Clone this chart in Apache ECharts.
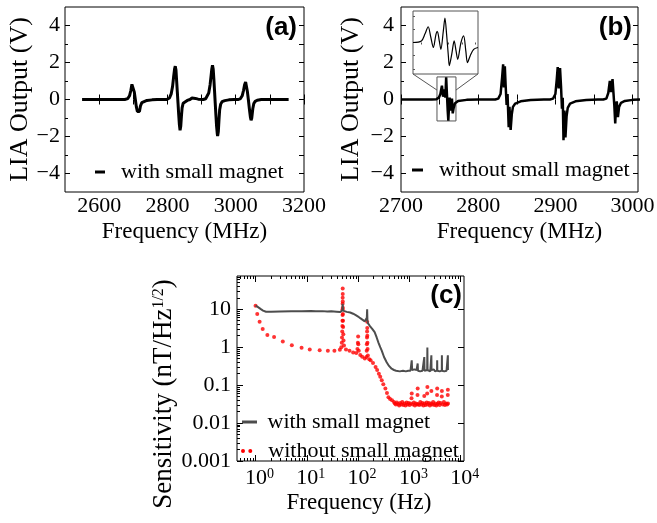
<!DOCTYPE html>
<html><head><meta charset="utf-8">
<script src="https://cdn.jsdelivr.net/npm/echarts@6/dist/echarts.min.js"></script>
<style>html,body{margin:0;padding:0;background:#fff}#c{width:657px;height:523px}</style>
</head><body><div id="c"></div>
<script>
// ---------- Panel (a): with small magnet ----------
const freqA = [2550,2675,2684,2689,2693,2696,2698,2700,2703,2706,2709,2712,2715,2718,2721,2725,2730,2740,2755,2770,
  2798,2806,2811,2815,2818,2821,2823,2825,2827,2829,2831,2833,2835,2837,2839,2841,2843,2846,2850,2858,2866,2872,2877,2882,2890,
  2905,2912,2917,2921,2925,2928,2930,2932,2934,2936,2938,2940,2942,2944,2946,2947,2949,2951,2953,2956,2960,2968,2980,2995,
  3008,3014,3019,3023,3026,3029,3031,3034,3037,3040,3043,3045,3047,3050,3053,3057,3063,3075,3155];
const liaA = [0,0,0.05,0.2,0.5,0.82,0.9,0.75,0.4,0,-0.4,-0.65,-0.74,-0.65,-0.35,-0.17,-0.1,-0.05,-0.02,0,
  0,0.08,0.3,0.7,1.2,1.65,1.8,1.6,1.0,0.4,-0.2,-0.8,-1.35,-1.66,-1.45,-0.9,-0.45,-0.2,-0.1,-0.05,0,0.08,0.12,0.06,0.02,
  0,0.04,0.12,0.35,0.8,1.3,1.65,1.85,1.65,1.1,0.45,-0.2,-0.85,-1.45,-1.85,-1.98,-1.75,-1.1,-0.55,-0.25,-0.12,-0.06,-0.02,0,
  0,0.05,0.2,0.5,0.8,0.95,0.85,0.45,0,-0.5,-0.95,-1.12,-1.0,-0.5,-0.22,-0.1,-0.04,0,0];

// ---------- Panel (b): without small magnet ----------
const freqB = [2700,2740,2746,2749,2751,2753,2754.5,2755.5,2756.5,2757.5,2758.5,2759.5,2760.5,2761.3,2762.3,2763,2764,2765,2766,2767,2768,2770,2774,2785,2800,
  2822,2826,2829,2831,2832.3,2833.3,2834.5,2835.5,2836.8,2838,2839.5,2840.5,2842,2843.5,2845,2848,2855,2868,2885,
  2893,2897,2900,2901.8,2903,2904.3,2906,2907.3,2908.5,2909.5,2910.5,2911.7,2913,2914.5,2916,2919,2926,2940,2955,
  2962,2966,2968.5,2970.5,2972,2974,2975.3,2976.3,2977.5,2978.5,2979.5,2981,2982.5,2985,2990,3000,3010];
const liaB = [0,0,0.02,0.1,0.3,0.75,0.15,0.35,0.55,0.1,1.2,0.3,-0.6,-1.14,-0.3,0.1,-0.6,-0.2,0.05,-0.75,-0.5,-0.2,-0.08,-0.02,0,
  0,0.05,0.3,1.2,1.9,0.65,1.8,0.8,-0.3,0.3,-1.5,-0.4,-1.65,-0.8,-0.4,-0.22,-0.1,-0.03,0,
  0,0.05,0.3,1.1,1.75,0.6,1.7,0.7,-0.5,0.1,-2.2,-0.6,-2.05,-0.9,-0.45,-0.22,-0.1,-0.03,0,
  0,0.05,0.35,1.0,0.4,1.1,0.3,-0.3,-1.3,-0.4,-0.1,-0.95,-0.4,-0.18,-0.08,-0.02,0];

// ---------- Inset of panel (b) ----------
const freqInset = [2747.0,2750.1,2751.4,2752.6,2753.6,2754.5,2755.5,2756.0,2756.7,2757.3,2758.2,2758.8,2759.4,2760.1,2760.4,2761.3,2762.2,2762.9,2763.5,2764.7,2765.7,2766.5,2767.1,2768.1,2769.4,2771.0];
const liaInset  = [0,0.06,0.32,0.60,0.19,-0.19,0.32,0.42,0.06,-0.26,0.44,0.93,0.32,-0.57,-0.88,-0.45,0.06,-0.32,-0.64,-0.01,0.25,-0.32,-0.77,-0.51,-0.26,-0.19];

// ---------- Panel (c): sensitivity ----------
const freqWith = [1,1.1,1.25,1.4,1.6,2,3,5,8,12,15,20,25,30,38,45,48,49.5,50,50.5,52,55,60,70,80,90,100,110,120,135,145,148,150,152,155,
  170,190,210,230,250,270,290,320,360,400,450,500,550,600,650,700,750,800,850,900,950,1000,1050,1090,1110,1130,1180,1250,1300,1380,
  1430,1450,1470,1550,1620,1700,1800,1900,1930,1950,1970,2050,2150,2220,2240,2260,2350,2450,2550,2660,2680,2700,2850,3000,3150,3300,
  3460,3480,3500,3700,3900,4100,4280,4300,4320,4550,4800,5050,5300,5600,5620,5640];
const sensWith = [12.5,11.5,10.2,9.2,8.6,8.6,8.7,8.8,8.9,9.0,8.8,8.9,8.7,8.8,8.6,8.4,8.5,9.5,14,9.2,8.8,8.7,8.5,8.2,7.6,7.0,6.4,5.8,5.2,4.8,4.5,6,10,5,4.3,
  3.6,3.0,2.5,1.8,1.3,1.0,0.8,0.55,0.4,0.32,0.27,0.25,0.24,0.26,0.23,0.25,0.24,0.27,0.23,0.25,0.24,0.26,0.24,0.25,0.45,0.25,0.23,0.26,0.24,0.25,
  0.24,0.37,0.24,0.26,0.23,0.25,0.24,0.27,0.25,0.55,0.24,0.25,0.23,0.25,0.98,0.25,0.24,0.26,0.23,0.25,0.61,0.25,0.24,0.26,0.23,0.25,
  0.24,0.45,0.24,0.26,0.23,0.25,0.24,0.61,0.24,0.26,0.23,0.25,0.24,0.25,0.61,0.25];
const freqWithout = [1,1.08,1.2,1.38,1.7,2.3,3.4,5.1,7.9,11.4,17.8,25.7,34.5,44,47,48,48.5,49,49.3,49.5,49.7,49.8,49.9,50,50.05,50.1,50.2,50.3,50.5,50.7,51,51.5,52,53,
  58,68,80,92,97,99,100,101,103,110,120,135,145,147,148,149,149.5,150,150.5,151,152,153,155,165,175,195,219,235,254,270,289,310,340,365,390,420,458,500,
  520,545,570,600,630,660,690,725,760,800,840,880,920,965,1010,1060,1100,1110,1165,1220,1280,1340,1410,1440,1450,1480,1550,1630,1710,1790,1880,1950,1975,
  2070,2170,2220,2240,2280,2390,2510,2640,2680,2760,2900,3040,3190,3350,3460,3480,3520,3700,3880,4070,4280,4300,4480,4700,4930,5180,5440,5600,5620,5650];
const sensWithout = [12.4,7.5,4.7,3.0,2.1,1.84,1.4,1.13,0.96,0.87,0.83,0.8,0.8,0.85,1.0,1.3,1.8,2.6,3.6,5,7,10,14,20,35,25,16,11,7.5,5,3.4,2.2,1.5,1.1,
  0.87,0.8,0.72,0.7,0.9,1.3,1.9,1.2,0.8,0.62,0.56,0.5,0.55,0.8,1.2,1.8,2.6,4.7,3.2,2.0,1.3,0.9,0.6,0.48,0.45,0.38,0.30,0.25,0.20,0.165,0.134,0.105,0.081,0.062,0.048,0.043,0.040,0.036,
  0.033,0.031,0.035,0.032,0.029,0.034,0.031,0.036,0.030,0.033,0.029,0.035,0.031,0.034,0.030,0.033,0.045,0.060,0.031,0.035,0.029,0.033,0.031,0.055,0.081,0.032,0.030,0.036,0.031,0.034,0.029,0.052,0.033,
  0.030,0.035,0.060,0.089,0.031,0.034,0.029,0.033,0.070,0.031,0.036,0.030,0.033,0.029,0.055,0.081,0.032,0.035,0.030,0.034,0.050,0.070,0.031,0.036,0.030,0.033,0.031,0.055,0.075,0.033];

// ---------- Ticks / labels ----------
const ticksAX = [2600,2700,2800,2900,3000,3100,3200];
const labelsAX = [2600,2800,3000,3200];
const ticksBX = [2700,2750,2800,2850,2900,2950,3000];
const labelsBX = [2700,2800,2900,3000];
const majorV = [-4,-2,0,2,4];
const minorV = [-3,-1,1,3];
const decadesX = [1,10,100,1000,10000];
const minorX = [0.5,0.6,0.7,0.8,0.9,2,3,4,5,6,7,8,9,20,30,40,50,60,70,80,90,200,300,400,500,600,700,800,900,2000,3000,4000,5000,6000,7000,8000,9000];
const decadesY = [0.001,0.01,0.1,1,10];
const minorY = [0.002,0.003,0.004,0.005,0.006,0.007,0.008,0.009,0.02,0.03,0.04,0.05,0.06,0.07,0.08,0.09,0.2,0.3,0.4,0.5,0.6,0.7,0.8,0.9,2,3,4,5,6,7,8,9,20,30,40,50,60,70];
const insetTicksX = [2750,2755,2760,2765,2770];
const insetTicksY = [-1,-0.5,0,0.5,1];

// zoom region annotation (in panel (b) data coordinates)
const zoomRegion = { x0: 2746.6, x1: 2771.2, yTop: 1.22, yBot: -1.16, insetL: 2715.5, insetR: 2799.7, insetBottom: 1.38, joinY: 0.51 };

const SERIF = '"Liberation Serif","Times New Roman",serif';
const SANS = '"Liberation Sans",Arial,sans-serif';
const zip = (xs, ys) => xs.map((x, i) => [x, ys[i]]);
const tick = (vals, len, color) => ({ show: true, inside: true, length: len, customValues: vals, lineStyle: { color: color || '#000', width: 1 } });
const noLine = { show: false };
const noSplit = { show: false };
const fmtV = v => v < 0 ? '\u2212' + (-v) : String(v);
const fmtPlain = v => String(v);

function valAxis(o) {
  return {
    type: o.type || 'value', gridIndex: o.grid, position: o.pos, min: o.min, max: o.max,
    axisLine: noLine, splitLine: noSplit, minorTick: { show: false },
    axisTick: tick(o.ticks, o.len || 5, o.color),
    axisLabel: o.labels ? Object.assign({ show: true, customValues: o.labels, color: '#000', fontFamily: SERIF, fontSize: 22, margin: o.margin || 4, hideOverlap: false, showMinLabel: true, showMaxLabel: true, formatter: fmtPlain }, o.labelExtra || {}) : { show: false },
    name: o.name || '', nameLocation: 'middle', nameGap: o.nameGap || 0,
    nameTextStyle: Object.assign({ fontFamily: SERIF, fontSize: o.nameSize || 23, color: '#000' }, o.nameExtra || {})
  };
}

const logXLabel = {
  formatter: v => '{b|10}{s|' + Math.round(Math.log10(v)) + '}',
  padding: [0, 0, 0, 8],
  rich: { b: { fontFamily: SERIF, fontSize: 22, color: '#000' }, s: { fontFamily: SERIF, fontSize: 14, color: '#000', verticalAlign: 'top' } }
};
const logYLabel = { formatter: v => String(+(+v).toPrecision(1)) };

const xAxis = [
  valAxis({ grid: 0, pos: 'bottom', min: 2500, max: 3200, ticks: ticksAX, labels: labelsAX, margin: 3, name: 'Frequency (MHz)', nameGap: 28 }),
  valAxis({ grid: 0, pos: 'top', min: 2500, max: 3200, ticks: ticksAX }),
  valAxis({ grid: 1, pos: 'bottom', min: 2700, max: 3007, ticks: ticksBX, labels: labelsBX, margin: 3, name: 'Frequency (MHz)', nameGap: 28 }),
  valAxis({ grid: 1, pos: 'top', min: 2700, max: 3007, ticks: ticksBX }),
  valAxis({ grid: 3, pos: 'top', min: 2747, max: 2771, ticks: insetTicksX, len: 2, color: '#555' }),
  valAxis({ grid: 2, pos: 'bottom', type: 'log', min: 0.435, max: 11600, ticks: decadesX, len: 6, labels: decadesX, margin: 6, labelExtra: logXLabel, name: 'Frequency (Hz)', nameGap: 30, nameExtra: { padding: [0, 0, 0, 17] } }),
  valAxis({ grid: 2, pos: 'bottom', type: 'log', min: 0.435, max: 11600, ticks: minorX, len: 3 }),
  valAxis({ grid: 2, pos: 'top', type: 'log', min: 0.435, max: 11600, ticks: decadesX, len: 6 }),
  valAxis({ grid: 2, pos: 'top', type: 'log', min: 0.435, max: 11600, ticks: minorX, len: 3 })
];
const yAxis = [
  valAxis({ grid: 0, pos: 'left', min: -5, max: 5, ticks: majorV, labels: majorV, margin: 5, labelExtra: { formatter: fmtV }, name: 'LIA Output (V)', nameGap: 30, nameSize: 26 }),
  valAxis({ grid: 0, pos: 'left', min: -5, max: 5, ticks: minorV, len: 3 }),
  valAxis({ grid: 0, pos: 'right', min: -5, max: 5, ticks: majorV.concat(minorV) }),
  valAxis({ grid: 1, pos: 'left', min: -5, max: 5, ticks: majorV, labels: majorV, margin: 7, labelExtra: { formatter: fmtV }, name: 'LIA Output (V)', nameGap: 37, nameSize: 26 }),
  valAxis({ grid: 1, pos: 'left', min: -5, max: 5, ticks: minorV, len: 3 }),
  valAxis({ grid: 1, pos: 'right', min: -5, max: 5, ticks: majorV.concat(minorV) }),
  valAxis({ grid: 3, pos: 'left', min: -1.2, max: 1.2, ticks: insetTicksY, len: 2, color: '#555' }),
  valAxis({ grid: 2, pos: 'left', type: 'log', min: 0.001, max: 75, ticks: decadesY, len: 6, labels: decadesY, margin: 6, labelExtra: logYLabel,
    name: 'Sensitivity (nT/Hz{s|1/2})', nameGap: 56, nameSize: 27,
    nameExtra: { padding: [0, 51, 0, 0], rich: { s: { fontFamily: SERIF, fontSize: 16, color: '#000', verticalAlign: 'top' } } } }),
  valAxis({ grid: 2, pos: 'left', type: 'log', min: 0.001, max: 75, ticks: minorY, len: 3 }),
  valAxis({ grid: 2, pos: 'right', type: 'log', min: 0.001, max: 75, ticks: decadesY, len: 6 })
];

const gridBase = { show: true, borderColor: '#000', borderWidth: 1, backgroundColor: 'rgba(0,0,0,0)', containLabel: false, outerBoundsMode: 'none' };
const option = {
  animation: false,
  backgroundColor: '#fff',
  grid: [
    Object.assign({ left: 65, top: 7, width: 239, height: 185 }, gridBase),
    Object.assign({ left: 401, top: 7, width: 237, height: 185 }, gridBase),
    Object.assign({ left: 237, top: 276, width: 227, height: 185 }, gridBase),
    Object.assign({}, gridBase, { left: 413, top: 11, width: 65, height: 63, borderColor: '#555', backgroundColor: '#fff' })
  ],
  title: [
    { text: '(a)', right: 360, top: 15, padding: 0, textStyle: { fontFamily: SANS, fontWeight: 'bold', fontSize: 26, color: '#000' } },
    { text: '(b)', right: 25, top: 15, padding: 0, textStyle: { fontFamily: SANS, fontWeight: 'bold', fontSize: 26, color: '#000' } },
    { text: '(c)', right: 195, top: 283, padding: 0, textStyle: { fontFamily: SANS, fontWeight: 'bold', fontSize: 26, color: '#000' } }
  ],
  legend: [
    { data: [{ name: 'with small magnet', icon: 'rect', itemStyle: { color: '#000' } }], left: 95, top: 161, padding: 0, itemWidth: 10, itemHeight: 3,
      selectedMode: false, formatter: n => '  ' + n, textStyle: { fontFamily: SERIF, fontSize: 22, color: '#000' } },
    { data: [{ name: 'without small magnet', icon: 'rect', itemStyle: { color: '#000' } }], left: 412, top: 159, padding: 0, itemWidth: 11, itemHeight: 3,
      selectedMode: false, formatter: n => '  ' + n, textStyle: { fontFamily: SERIF, fontSize: 22, color: '#000' } },
    { data: [{ name: 'with small magnet', icon: 'rect', itemStyle: { color: '#4d4d4d' } }], left: 242, top: 411, padding: 0, itemWidth: 15, itemHeight: 3,
      selectedMode: false, formatter: n => ' ' + n, textStyle: { fontFamily: SERIF, fontSize: 22, color: '#000' } },
    { data: [{ name: 'without small magnet', icon: 'path://M0,2a2,2 0 1,0 4,0a2,2 0 1,0 -4,0z M7.3,2a2,2 0 1,0 4,0a2,2 0 1,0 -4,0z', itemStyle: { color: '#ff0000' } }],
      left: 241, top: 440, padding: 0, itemWidth: 11.3, itemHeight: 4,
      selectedMode: false, formatter: n => '  ' + n, textStyle: { fontFamily: SERIF, fontSize: 22, color: '#000' } }
  ],
  xAxis, yAxis,
  series: [
    { name: 'with small magnet', type: 'line', xAxisIndex: 0, yAxisIndex: 0, data: zip(freqA, liaA), showSymbol: false, symbol: 'none',
      lineStyle: { color: '#000', width: 3 }, itemStyle: { color: '#000' } },
    { name: 'without small magnet', type: 'line', xAxisIndex: 2, yAxisIndex: 3, data: zip(freqB, liaB), showSymbol: false, symbol: 'none',
      lineStyle: { color: '#000', width: 2.5 }, itemStyle: { color: '#000' },
      markArea: { silent: true, itemStyle: { color: 'rgba(0,0,0,0)', borderColor: '#555', borderWidth: 1 },
        data: [[{ coord: [zoomRegion.x0, zoomRegion.yTop] }, { coord: [zoomRegion.x1, zoomRegion.yBot] }]] },
      markLine: { silent: true, symbol: ['none', 'none'], label: { show: false }, lineStyle: { color: '#555', width: 1, type: 'solid' },
        data: [[{ coord: [zoomRegion.insetL, zoomRegion.insetBottom] }, { coord: [zoomRegion.x0, zoomRegion.joinY] }],
               [{ coord: [zoomRegion.insetR, zoomRegion.insetBottom] }, { coord: [zoomRegion.x1, zoomRegion.joinY] }]] } },
    { name: 'inset', type: 'line', xAxisIndex: 4, yAxisIndex: 6, data: zip(freqInset, liaInset), showSymbol: false, symbol: 'none', smooth: 0.3,
      lineStyle: { color: '#000', width: 1.2 } },
    { name: 'with small magnet', type: 'line', xAxisIndex: 5, yAxisIndex: 7, data: zip(freqWith, sensWith), showSymbol: false, symbol: 'none',
      lineStyle: { color: '#4d4d4d', width: 2 }, itemStyle: { color: '#4d4d4d' } },
    { name: 'without small magnet', type: 'scatter', xAxisIndex: 5, yAxisIndex: 7, data: zip(freqWithout, sensWithout), symbolSize: 4,
      itemStyle: { color: '#ff0000' } }
  ]
};
const chart = echarts.init(document.getElementById('c'), null, { renderer: 'canvas' });
chart.setOption(option);
</script>
</body></html>
